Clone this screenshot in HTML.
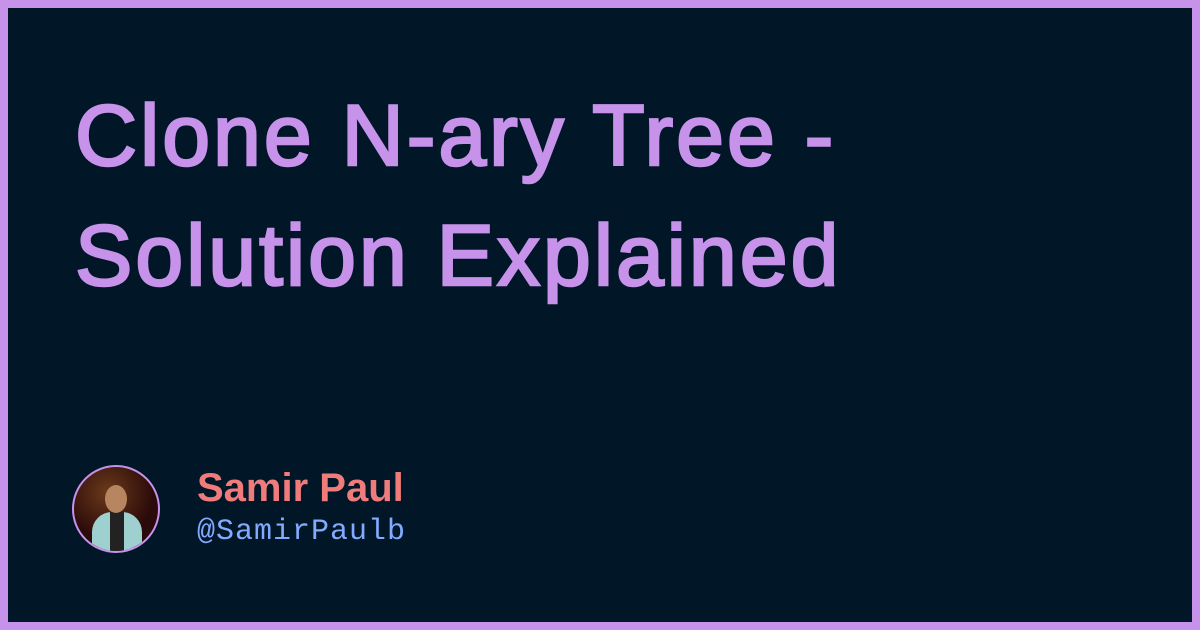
<!DOCTYPE html>
<html><head><meta charset="utf-8"><style>
html,body{margin:0;padding:0}
body{width:1200px;height:630px;background:#c792ea;position:relative;overflow:hidden}
.inner{position:absolute;left:8px;top:8px;width:1184px;height:614px;background:#011627}
.t{position:absolute;left:75px;font-family:"Liberation Sans",sans-serif;font-weight:normal;-webkit-text-stroke:2.5px #c792ea;color:#c792ea;font-size:86px;letter-spacing:3px;white-space:nowrap;line-height:1}
.av{position:absolute;left:72px;top:465px;width:84px;height:84px;border-radius:50%;border:2px solid #c792ea;overflow:hidden;background:radial-gradient(circle at 40% 30%,#6b3a1a,#2a0a0a 60%)}
.body{position:absolute;left:18px;top:45px;width:50px;height:50px;border-radius:40% 40% 0 0;background:#9fd0d0}
.shirt{position:absolute;left:36px;top:45px;width:14px;height:50px;background:#222}
.head{position:absolute;left:31px;top:18px;width:22px;height:28px;border-radius:50%;background:#b78660}
.name{position:absolute;left:197px;top:466px;font-family:"Liberation Sans",sans-serif;font-size:40px;color:#ef7b7b;font-weight:bold}
.h{position:absolute;left:197px;top:515px;font-family:"Liberation Mono",monospace;font-size:30px;color:#82aaff;letter-spacing:1px}
</style></head><body>
<div class="inner"></div>
<div class="t" style="top:93px">Clone N-ary Tree -</div>
<div class="t" style="top:213px">Solution Explained</div>
<div class="av"><div class="body"></div><div class="shirt"></div><div class="head"></div></div>
<div class="name">Samir Paul</div>
<div class="h">@SamirPaulb</div>
</body></html>
